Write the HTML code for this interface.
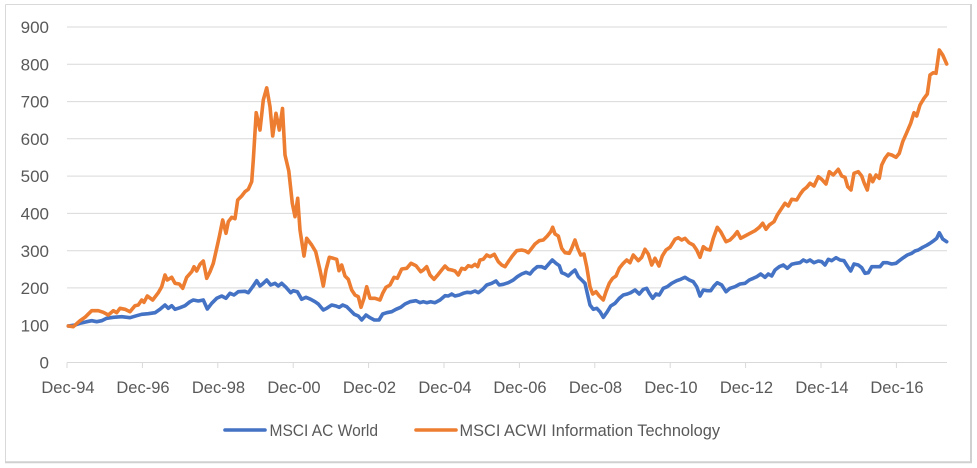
<!DOCTYPE html>
<html>
<head>
<meta charset="utf-8">
<style>
  html, body { margin: 0; padding: 0; background: #ffffff; }
  body { width: 977px; height: 468px; overflow: hidden; }
  svg { display: block; }
  text { font-family: "Liberation Sans", "DejaVu Sans", sans-serif; fill: #595959; }
</style>
</head>
<body>
<svg width="977" height="468" viewBox="0 0 977 468" xmlns="http://www.w3.org/2000/svg">
  <rect x="0" y="0" width="977" height="468" fill="#ffffff"/>
  <!-- frame -->
  <line x1="5.5" y1="4.5" x2="971" y2="4.5" stroke="#d9d9d9" stroke-width="1"/>
  <line x1="5.5" y1="4.5" x2="5.5" y2="462" stroke="#d9d9d9" stroke-width="1"/>
  <line x1="971" y1="4" x2="971" y2="463" stroke="#d0d0d0" stroke-width="2"/>
  <line x1="5" y1="462.3" x2="972" y2="462.3" stroke="#d0d0d0" stroke-width="2"/>

  <!-- gridlines -->
  <g stroke="#d9d9d9" stroke-width="1">
    <line x1="67" y1="27" x2="947" y2="27"/>
    <line x1="67" y1="64.3" x2="947" y2="64.3"/>
    <line x1="67" y1="101.6" x2="947" y2="101.6"/>
    <line x1="67" y1="138.8" x2="947" y2="138.8"/>
    <line x1="67" y1="176.1" x2="947" y2="176.1"/>
    <line x1="67" y1="213.4" x2="947" y2="213.4"/>
    <line x1="67" y1="250.7" x2="947" y2="250.7"/>
    <line x1="67" y1="287.9" x2="947" y2="287.9"/>
    <line x1="67" y1="325.2" x2="947" y2="325.2"/>
    <line x1="67" y1="362.5" x2="947" y2="362.5"/>
  </g>
  <!-- ticks -->
  <g stroke="#d9d9d9" stroke-width="1">
    <line x1="67" y1="362.5" x2="67" y2="368"/>
    <line x1="142.4" y1="362.5" x2="142.4" y2="368"/>
    <line x1="217.8" y1="362.5" x2="217.8" y2="368"/>
    <line x1="293.2" y1="362.5" x2="293.2" y2="368"/>
    <line x1="368.6" y1="362.5" x2="368.6" y2="368"/>
    <line x1="444" y1="362.5" x2="444" y2="368"/>
    <line x1="519.4" y1="362.5" x2="519.4" y2="368"/>
    <line x1="594.8" y1="362.5" x2="594.8" y2="368"/>
    <line x1="670.2" y1="362.5" x2="670.2" y2="368"/>
    <line x1="745.6" y1="362.5" x2="745.6" y2="368"/>
    <line x1="821" y1="362.5" x2="821" y2="368"/>
    <line x1="896.4" y1="362.5" x2="896.4" y2="368"/>
  </g>

  <!-- y labels -->
  <g font-size="17" text-anchor="end">
    <text x="49" y="33.1">900</text>
    <text x="49" y="70.4">800</text>
    <text x="49" y="107.7">700</text>
    <text x="49" y="144.9">600</text>
    <text x="49" y="182.2">500</text>
    <text x="49" y="219.5">400</text>
    <text x="49" y="256.8">300</text>
    <text x="49" y="294">200</text>
    <text x="49" y="331.3">100</text>
    <text x="49" y="368.6">0</text>
  </g>

  <!-- x labels -->
  <g font-size="16.5" text-anchor="middle">
    <text x="68" y="393">Dec-94</text>
    <text x="143" y="393">Dec-96</text>
    <text x="218.5" y="393">Dec-98</text>
    <text x="294" y="393">Dec-00</text>
    <text x="369.5" y="393">Dec-02</text>
    <text x="445" y="393">Dec-04</text>
    <text x="520" y="393">Dec-06</text>
    <text x="595.5" y="393">Dec-08</text>
    <text x="671" y="393">Dec-10</text>
    <text x="746.5" y="393">Dec-12</text>
    <text x="822" y="393">Dec-14</text>
    <text x="897" y="393">Dec-16</text>
  </g>

  <!-- MSCI AC World (blue) -->
  <polyline fill="none" stroke="#4472C4" stroke-width="3.6" stroke-linejoin="round" stroke-linecap="round"
    points="68.3,326 75,325 80,323.3 86.7,321.7 91.7,320.7 96.7,321.7 101.7,320.7 106.7,318.3 113.3,317.3 121.7,316.7 130,317.7 136.7,315.7 141.7,314.3 148.3,313.7 155,312.7 160,309.3 165,305 168.3,308.3 171.7,305.7 175,309.3 180,307.7 185,305.7 190,301.7 193.3,300 198.3,301 203.3,300 207.3,309 211.7,303.3 216.7,298.3 221.7,296 226,298.3 230,293.3 234,295 238.3,291.7 245,291.3 248.3,292.7 252.7,286.7 256.7,280.7 260,286 263.3,283.3 266.7,280 270.7,285 275,283.3 278.3,286 281.7,283.3 286,287.3 290.7,292.7 293.3,290.7 297.3,291.7 301.7,299.3 306,297.3 310.7,299.3 315,301.7 318.3,304 323.3,310 326.7,308.3 331.7,305 336,306 339.3,307.3 342.7,305 346.7,306.7 350,310 354.3,314.3 358.3,316 361.7,320 366,315 370,317.7 374.3,320 379,320 382.7,314 386.7,312.7 391.7,311.7 396,309.3 400.7,307.3 405,304 410,301.7 416,300.7 420,302.7 423.3,301.7 426.7,302.7 430.7,301.7 435,302.7 440,300 445,295.7 448.3,296 451.7,294 455,296 459.3,295 463.3,293.3 467.3,292.3 470.7,292.7 475,291 478.3,292.7 482.7,289.3 486.7,285 491.7,283.3 496,281 499.3,285 503.3,284.3 508.3,282.7 513.3,280 517.3,276.7 521.7,274 526,272.3 530,274 533.3,270 537.3,266.7 541.7,266.7 545,268.3 549.3,263.3 552.3,260 556,263.3 559.3,265.7 561.7,272.7 565,274 568.3,276 571.7,272.7 575,270 578.3,276.7 581.7,280 585,283.3 587.3,293.3 590,305 593.3,309.3 596.7,308.3 600,311.7 603.3,317.3 607.3,311.7 610.7,306 615,303.3 619.3,298.3 623.3,295 627.3,294 630.7,292.7 635,290 639.3,294 643.3,289.3 646.7,288.3 649.3,293.3 652.7,298.3 656,294 659.3,295 663.3,288.3 667.3,286.7 671.7,283.3 676.7,280.7 680.7,279.3 685,277.3 689.3,280 693.3,281.7 696.7,286.7 700,296 703.3,290 707.3,290.7 710.7,290.7 714,286 717.3,282.7 721.7,285 726,291.7 730,288.3 735,286.7 740,284 745,283.3 749.3,280 753.3,278.3 756.7,276.7 760.7,274 765,277.3 768.3,274 771.7,276 775,270 779.3,266.7 783.3,265 787.3,268.3 791.7,264.3 796,263.3 800,262.7 803.3,260 806.7,261.7 810,260 814,262.7 818.3,261 821.7,261.7 825,265 828.3,259.3 831.7,260.7 836,257.7 840,260 844,260.7 847.3,266 850.7,271 854,264 858.3,265 861.7,267.7 865,273.3 868.3,272.7 871.7,266.7 876,266.7 880,266.7 883.3,262.7 887.3,262.7 891.7,264 896,263.3 899.3,260.7 903.3,257.7 907.3,255 911.7,253.3 915,251 918.3,250 922.7,247.3 926.7,245.3 930,243.3 933.3,241 936.7,238.3 939.3,232.7 942.7,239 946.7,241.7"/>

  <!-- MSCI ACWI Information Technology (orange) -->
  <polyline fill="none" stroke="#ED7D31" stroke-width="3.6" stroke-linejoin="round" stroke-linecap="round"
    points="68.3,326 73.3,326.7 80,320.7 85,317.3 91.7,310.7 98.3,310.7 103.3,312.3 108.3,315 113.3,310.7 116.7,312.7 120,308.3 125,309.3 130,311.7 135,305.7 138.3,305 141.7,300 144,302.3 147.3,296 152.7,300 158.3,292.7 161.7,286.7 165,275 167.3,280 171.7,277.3 175,283.3 179.3,284 182.7,288.3 186.7,277.3 191.7,271.7 194,266.7 196.7,271 200,264.3 203.3,261 206.7,278.3 210,271.7 213.3,263.3 216.7,248.3 219.3,236.7 222.7,220 226,233.3 228.3,221.7 231.7,217.3 235,218.7 237.7,200 241.7,196 245,191.7 248.3,189.3 251.7,181.7 253.3,160 256.2,112.7 260,130 263.3,100 266.7,87.8 270,106.7 272.7,136 276,113.3 279.3,130 282.5,108.5 285,155 288.8,171 292.3,203.3 295,216.7 297.7,198.3 300,230 304,256 306.7,238.3 311.7,245 315.7,251.7 320,270 323.3,286 326,270 329.3,257.3 333.3,258.3 336.7,259.3 339,270.7 341.7,265 345,276 348.3,279.3 351.7,290 355,295 358.3,296.7 361,307.3 364,298.3 366.7,286.7 370,298.3 375,298.3 380,300 382.7,293.3 386,287.3 390,285 394,277.3 397.3,278.3 401.7,269 406.7,268.3 411,263.3 416,265.7 420.7,271.7 423.3,270 426.7,266.7 430,275 434,279.3 438.3,274.3 441.7,270 445,266 448.3,269.3 451.7,270 455,271 458.3,275 461.7,268.3 465,269.3 468.3,265.7 471.7,266.7 475,264.3 477.7,266.7 480,260 483.3,259.3 486.7,255 490,256.7 494.3,254.3 498.3,261.7 501.7,265 505,266.7 508.3,261.7 512.3,256 516.7,250.7 521.7,250 525,250.7 528.3,252.7 531.7,248.3 535,244 539.3,240.7 543.3,240 547.3,236 550.7,231.7 552.7,227.3 555,234 558.3,236 561.7,248.3 565,252.7 569.3,253.3 571.7,248.3 575,240 577.7,248.3 580.7,255 584,254 586.7,266.7 590,286.7 592.7,294 596,291.7 599.3,296 603.3,300 606,291.7 609.3,283.3 612.7,278.3 616,276 619.3,268.3 623.3,263.3 626.7,260 630,262.7 633.3,255 638.3,260.7 641.7,257.3 645,249.3 648.3,254 651.7,265 655,258.3 659,266 662.3,256 666,250 670,247.3 675,239.3 678.3,237.7 681.7,240 685,238.3 689,242.7 693.3,245 696.7,250 700,257.3 703.3,246.7 706.7,249.3 710,250 713.3,238.3 717.3,227.3 720.7,231.7 726,241.7 730,240 734,236 737.3,231.7 740.7,238.3 745,236 750,233.3 755,230.7 759.3,227.3 762.7,223.3 766,229.3 769.3,225 774,221.7 777.3,215 781.7,208.3 785,203.3 788.3,206 791.7,199.3 796.7,200 800.3,194 803.3,190 806.7,187.3 810,183.3 814,186 818.3,176.7 821.7,179.3 826,184 829.3,171.7 833.3,175 838.3,169.3 841.7,176 845,177.3 847.7,186.7 851,190 854,173.3 858.3,171.7 861.7,176 864.3,183.3 867.3,190 870,175 872.7,181.7 876,175 879.3,178.3 881.7,165 885,158.3 888.3,154 891.7,155 896,157.3 899.3,153.3 902.7,141.7 906.7,132.7 910.7,123.3 914,112.7 916.7,116 920,105 924,98.3 927.3,94 930,75 933.3,72.7 936,73.3 939.3,50 942.7,55 946.7,64"/>

  <!-- legend -->
  <line x1="225" y1="430" x2="265" y2="430" stroke="#4472C4" stroke-width="3.6" stroke-linecap="round"/>
  <text x="269.5" y="436" font-size="16.5" textLength="108.5" lengthAdjust="spacingAndGlyphs">MSCI AC World</text>
  <line x1="416" y1="430" x2="456" y2="430" stroke="#ED7D31" stroke-width="3.6" stroke-linecap="round"/>
  <text x="459.5" y="436" font-size="16.5" textLength="260.5" lengthAdjust="spacingAndGlyphs">MSCI ACWI Information Technology</text>
</svg>
</body>
</html>
